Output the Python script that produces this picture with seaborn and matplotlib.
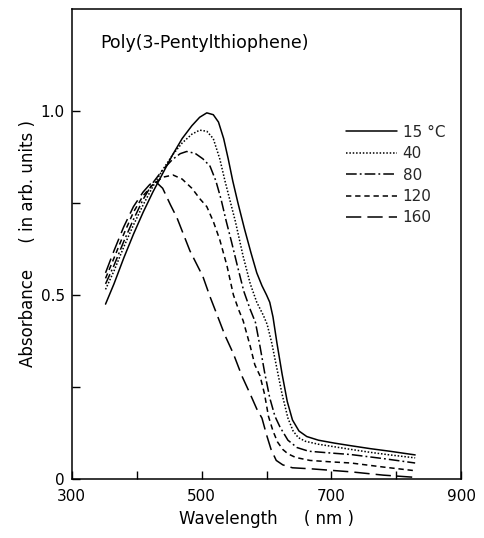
import numpy as np
import pandas as pd
import matplotlib
matplotlib.use("Agg")
import matplotlib.pyplot as plt
import seaborn as sns

sns.set_theme(style="ticks")
plt.rcParams['font.family'] = ['DejaVu Sans']

# absorption spectra (wavelength in nm, absorbance in arb. units)
wl_15 = [352, 365, 380, 395, 410, 425, 440, 455, 470, 485, 497, 508, 518, 526, 534,
         541, 548, 556, 566, 576, 585, 593, 600, 605, 610, 616, 624, 632, 640, 650,
         662, 680, 705, 730, 760, 790, 829]
abs_15 = [0.475, 0.53, 0.60, 0.665, 0.725, 0.78, 0.83, 0.88, 0.925, 0.96, 0.983, 0.995,
          0.99, 0.97, 0.925, 0.87, 0.81, 0.75, 0.68, 0.615, 0.56, 0.525, 0.50, 0.48,
          0.44, 0.37, 0.285, 0.21, 0.16, 0.13, 0.115, 0.105, 0.097, 0.09, 0.082, 0.075, 0.065]

wl_40 = [352, 365, 380, 395, 410, 425, 440, 455, 470, 485, 497, 508, 518, 528, 536,
         544, 552, 564, 575, 585, 595, 601, 608, 616, 624, 633, 641, 649, 660, 680,
         705, 730, 760, 790, 829]
abs_40 = [0.515, 0.565, 0.63, 0.69, 0.745, 0.795, 0.84, 0.88, 0.913, 0.937, 0.948, 0.945,
          0.925, 0.87, 0.81, 0.755, 0.70, 0.605, 0.53, 0.48, 0.445, 0.42, 0.37, 0.30,
          0.23, 0.165, 0.13, 0.112, 0.102, 0.094, 0.087, 0.08, 0.072, 0.065, 0.057]

wl_80 = [352, 365, 380, 395, 410, 425, 440, 455, 467, 477, 490, 502, 513, 522, 530,
         538, 546, 555, 565, 575, 583, 590, 597, 605, 613, 621, 633, 647, 665, 700,
         730, 780, 829]
abs_80 = [0.53, 0.58, 0.645, 0.705, 0.76, 0.805, 0.84, 0.868, 0.884, 0.89, 0.885, 0.87,
          0.85, 0.81, 0.76, 0.70, 0.645, 0.58, 0.51, 0.46, 0.425, 0.36, 0.29, 0.22,
          0.17, 0.14, 0.105, 0.085, 0.075, 0.07, 0.066, 0.055, 0.043]

wl_120 = [352, 365, 380, 395, 410, 425, 440, 456, 470, 485, 498, 508, 518, 528, 539,
          549, 557, 564, 575, 582, 590, 597, 603, 610, 617, 625, 633, 645, 667, 700,
          730, 780, 829]
abs_120 = [0.545, 0.60, 0.665, 0.725, 0.77, 0.80, 0.82, 0.826, 0.815, 0.79, 0.76, 0.74,
           0.70, 0.65, 0.58, 0.50, 0.46, 0.43, 0.36, 0.31, 0.28, 0.23, 0.17, 0.13,
           0.10, 0.08, 0.068, 0.058, 0.05, 0.046, 0.043, 0.032, 0.022]

wl_160 = [352, 365, 380, 395, 410, 420, 428, 440, 452, 462, 472, 482, 492, 502, 513,
          524, 536, 549, 562, 575, 585, 593, 600, 607, 615, 625, 640, 670, 700, 730,
          780, 829]
abs_160 = [0.56, 0.62, 0.685, 0.74, 0.78, 0.80, 0.81, 0.79, 0.745, 0.71, 0.665, 0.62,
           0.585, 0.55, 0.495, 0.445, 0.39, 0.34, 0.28, 0.23, 0.19, 0.165, 0.12, 0.08,
           0.05, 0.038, 0.03, 0.027, 0.023, 0.019, 0.01, 0.004]

labels = ["15 °C", "40", "80", "120", "160"]
styles = ["-", (0, (1, 1.2)), (0, (7, 2, 1.2, 2)), (0, (3.5, 2.5)), (0, (10, 4))]

curves = [(wl_15, abs_15), (wl_40, abs_40), (wl_80, abs_80),
          (wl_120, abs_120), (wl_160, abs_160)]

fig = plt.figure(figsize=(4.85, 5.38), dpi=100)
ax = fig.add_axes([0.148, 0.110, 0.803, 0.873])

for (wl, ab), lab, ls in zip(curves, labels, styles):
    df = pd.DataFrame({"wl": wl, "A": ab})
    sns.lineplot(data=df, x="wl", y="A", ax=ax, color="black", linewidth=1.1,
                 linestyle=ls, label=lab, sort=False, estimator=None)

ax.set_xlim(300, 900)
ax.set_ylim(0, 1.277)
ax.set_xticks([300, 500, 700, 900])
ax.set_xticklabels(["300", "500", "700", "900"])
ax.set_xticks([400, 600, 800], minor=True)
ax.set_yticks([0, 0.5, 1.0])
ax.set_yticklabels(["0", "0.5", "1.0"])
ax.set_yticks([0.25, 0.75], minor=True)
ax.tick_params(which="both", direction="in", length=6, width=1, labelsize=11,
               colors="black")
ax.tick_params(axis="x", pad=7)
ax.tick_params(axis="y", pad=5)
for s in ax.spines.values():
    s.set_color("black")
    s.set_linewidth(1.1)

ax.set_xlabel("Wavelength     ( nm )", fontsize=12, color="black", labelpad=5)
ax.set_ylabel("Absorbance     ( in arb. units )", fontsize=12, color="black",
              labelpad=3)

ax.text(0.072, 0.928, "Poly(3-Pentylthiophene)", transform=ax.transAxes,
        fontsize=12.5, color="black", va="center", ha="left")

ax.legend(loc="upper left", bbox_to_anchor=(0.685, 0.77), frameon=False,
          handlelength=3.3, handletextpad=0.4, labelspacing=0.42, borderpad=0,
          fontsize=11)

fig.savefig("out.png", dpi=100)
